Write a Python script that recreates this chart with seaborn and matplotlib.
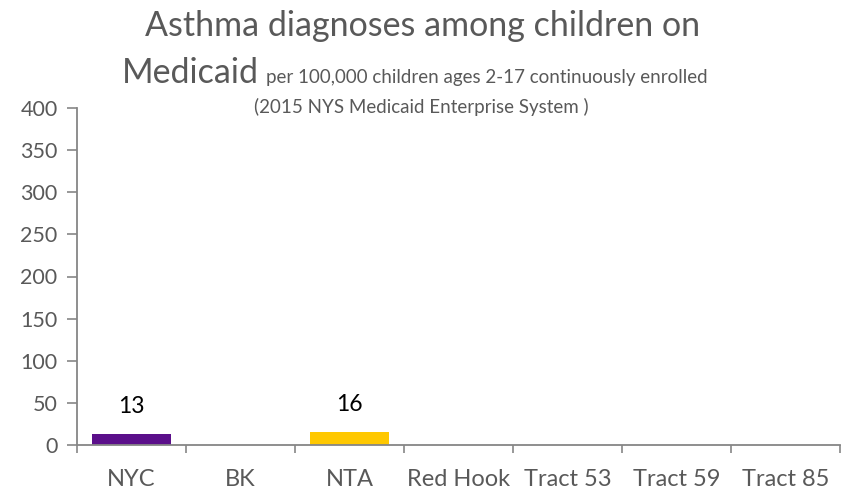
import matplotlib
matplotlib.use("Agg")
import matplotlib.pyplot as plt
import seaborn as sns
import pandas as pd
import numpy as np

# Asthma diagnosis rates per 100,000 children (2-17) on Medicaid
categories = ["NYC", "BK", "NTA", "Red Hook", "Tract 53", "Tract 59", "Tract 85"]
rates = [13, np.nan, 16, np.nan, np.nan, np.nan, np.nan]
bar_colors = ["#5B0F8A", "#7F7F7F", "#FFC800", "#7F7F7F", "#7F7F7F", "#7F7F7F", "#7F7F7F"]
y_ticks = [0, 50, 100, 150, 200, 250, 300, 350, 400]

sns.set_theme(style="white")
plt.rcParams["font.family"] = ["Lato", "DejaVu Sans"]

TEXT = "#595959"
AXIS = "#868686"

df = pd.DataFrame({"area": categories, "rate": rates})

W, H = 841, 491
fig = plt.figure(figsize=(W / 100, H / 100), dpi=100)
ax = fig.add_axes([77 / W, 1 - 445 / H, 1 - 77 / W - 0.001, (445 - 108) / H])

sns.barplot(data=df.dropna(), x="area", y="rate", order=categories,
            hue="area", hue_order=categories, palette=bar_colors,
            width=0.73, legend=False, ax=ax, saturation=1, linewidth=0)

ax.set_ylim(0, 400)
ax.set_xlim(-0.5, len(categories) - 0.5)
ax.set_yticks(y_ticks)
ax.set_yticklabels([str(t) for t in y_ticks])
ax.set_xlabel("")
ax.set_ylabel("")

# category boundaries carry the tick marks, centers carry the labels
ax.set_xticks(np.arange(len(categories) + 1) - 0.5)
ax.set_xticklabels([])
ax.set_xticks(np.arange(len(categories)), minor=True)
ax.set_xticklabels(categories, minor=True)
ax.tick_params(axis="x", which="major", direction="out", length=6, width=1.2,
               color=AXIS, bottom=True)
ax.tick_params(axis="x", which="minor", length=0, pad=17, labelsize=17,
               labelcolor=TEXT, bottom=True)
ax.tick_params(axis="y", direction="out", length=7, width=1.2, color=AXIS,
               left=True, labelsize=15.5, labelcolor=TEXT, pad=7)

for side in ["top", "right"]:
    ax.spines[side].set_visible(False)
for side in ["left", "bottom"]:
    ax.spines[side].set_color(AXIS)
    ax.spines[side].set_linewidth(1.3)
ax.grid(False)

for i, v in enumerate(rates):
    if not np.isnan(v):
        ax.annotate(f"{v:g}", (i, v), xytext=(0, 12), textcoords="offset points",
                    ha="center", va="bottom", fontsize=16.5, color="black")

# title block
fig.text(423 / W, 1 - 36 / H, "Asthma diagnoses among children on",
         ha="center", va="baseline", fontsize=24.5, color=TEXT)
med = fig.text(122 / W, 1 - 83 / H, "Medicaid", ha="left", va="baseline",
               fontsize=24.5, color=TEXT)
fig.text(266 / W, 1 - 83 / H,
         "per 100,000 children ages 2-17 continuously enrolled",
         ha="left", va="baseline", fontsize=13.5, color=TEXT)
fig.text(421 / W, 1 - 113 / H, "(2015 NYS Medicaid Enterprise System )",
         ha="center", va="baseline", fontsize=13.5, color=TEXT)

fig.savefig("out.png", dpi=100)
